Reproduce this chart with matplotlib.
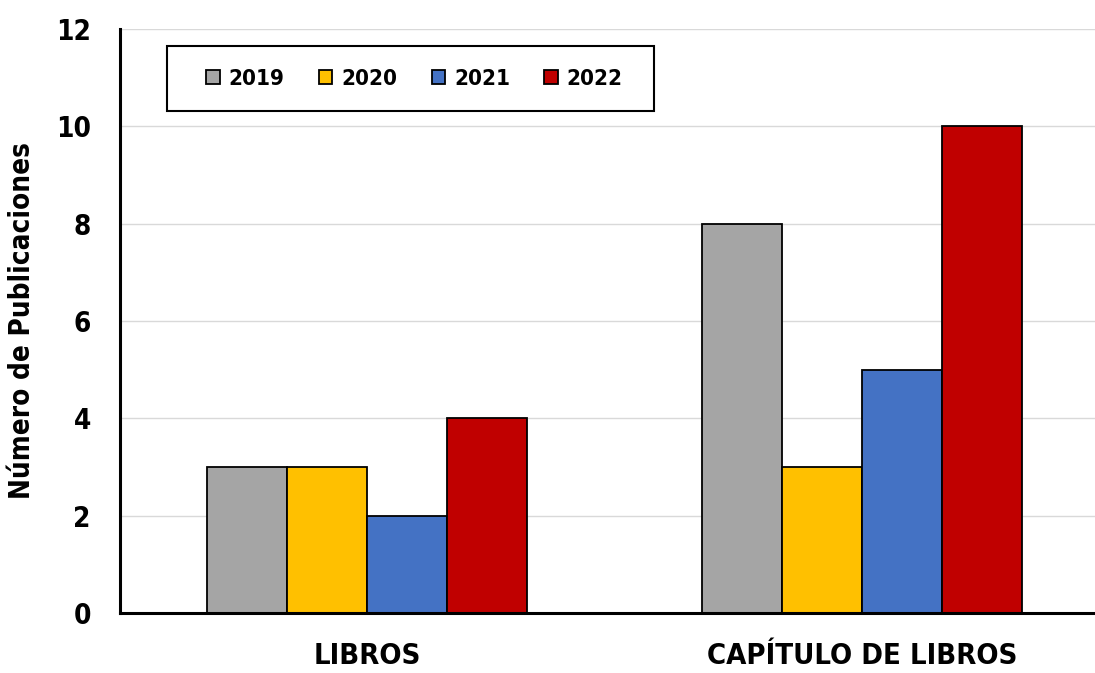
import matplotlib
matplotlib.use("Agg")
import matplotlib.pyplot as plt
import numpy as np
from matplotlib.patches import Rectangle

categories = ["LIBROS", "CAPÍTULO DE LIBROS"]
years = ["2019", "2020", "2021", "2022"]
values = {
    "2019": [3, 8],
    "2020": [3, 3],
    "2021": [2, 5],
    "2022": [4, 10],
}
colors = ["#A5A5A5", "#FFC000", "#4472C4", "#C00000"]
yticks = [0, 2, 4, 6, 8, 10, 12]

plt.rcParams['font.family'] = ['DejaVu Sans']
plt.rcParams['font.weight'] = 'bold'
plt.rcParams['font.stretch'] = 'condensed'

fig = plt.figure(figsize=(10.95, 6.73), dpi=100)
ax = fig.add_axes([120/1095, 60/673, (1095-120)/1095, (613-29)/673])

x = np.arange(len(categories))
bw = 0.1616
for i, (y, c) in enumerate(zip(years, colors)):
    ax.bar(x + (i - 1.5) * bw, values[y], width=bw, color=c, edgecolor="black",
           linewidth=1.3, label=y, zorder=3)

ax.set_xlim(-0.5, 1.4707)
ax.set_ylim(0, 12)
ax.set_yticks(yticks)
ax.set_xticks(x)
ax.set_xticklabels(categories, fontsize=21, fontweight='bold', fontstretch='condensed')
ax.tick_params(axis='y', labelsize=20, length=0, pad=21)
ax.tick_params(axis='x', length=0, pad=21)
for lab in ax.get_yticklabels():
    lab.set_fontweight('bold')
    lab.set_fontstretch('condensed')
ax.grid(axis='y', color="#D9D9D9", linewidth=1.0, zorder=0)
ax.set_axisbelow(True)
for s in ["top", "right"]:
    ax.spines[s].set_visible(False)
for s in ["left", "bottom"]:
    ax.spines[s].set_linewidth(2.2)
    ax.spines[s].set_zorder(4)
ax.set_ylabel("Número de Publicaciones", fontsize=20, fontweight='bold',
              fontstretch='condensed', labelpad=14)

# legend frame drawn as a rectangle in figure coordinates
fig.patches.append(Rectangle((167/1095, 1-111/673), (654-167)/1095, 65/673,
                             transform=fig.transFigure, facecolor="white",
                             edgecolor="black", linewidth=1.5, zorder=5))
leg = fig.legend(loc="center", bbox_to_anchor=((209+620)/2/1095, 1-79/673), ncol=4,
                 fontsize=16, frameon=False,
                 handlelength=0.6, handleheight=0.6, handletextpad=0.4,
                 columnspacing=1.55, borderpad=0, borderaxespad=0)
leg.set_zorder(6)
for t in leg.get_texts():
    t.set_fontweight('bold')
    t.set_fontstretch('condensed')

fig.savefig("out.png", dpi=100)
